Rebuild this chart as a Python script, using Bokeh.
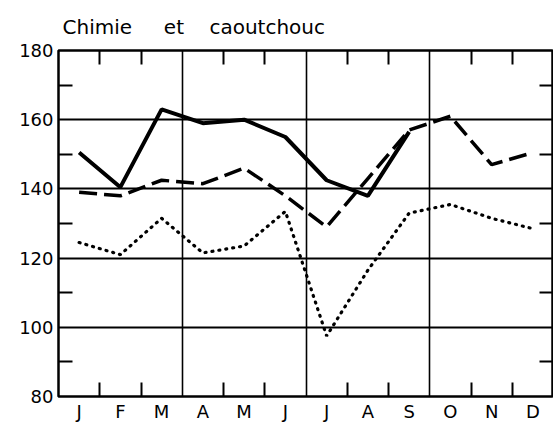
from bokeh.plotting import figure
from bokeh.models import FixedTicker, LinearAxis, Range1d
from bokeh.embed import file_html
from bokeh.resources import INLINE

# ---- data ----
months = ["J", "F", "M", "A", "M", "J", "J", "A", "S", "O", "N", "D"]
solid_vals = [150.5, 140.5, 163, 159, 160, 155, 142.5, 138, 156.5]
dashed_vals = [139, 138, 142.5, 141.5, 146, 138, 129, 143, 157, 161, 147, 150.5]
dotted_vals = [124.5, 121, 131.5, 121.5, 123.5, 133.5, 97.5, 116.5, 133, 135.5, 131.5, 128.5]
y_labels = [80, 100, 120, 140, 160, 180]
y_minor = [90, 110, 130, 150, 170]
y_grid = [100, 120, 140, 160]
quarter_lines = [3, 6, 9]
month_bounds = [1, 2, 4, 5, 7, 8, 10, 11]
title_text = "Chimie" + "\u00a0" * 5 + "et" + "\u00a0" * 4 + "caoutchouc"

xc = [i + 0.5 for i in range(len(months))]

FONT = "DejaVu Sans"

p = figure(width=553, height=424, output_backend="svg", toolbar_location=None,
           x_range=Range1d(0, 12), y_range=Range1d(80, 180),
           min_border_left=58, min_border_right=0, min_border_top=10, min_border_bottom=0,
           x_axis_location=None, y_axis_location=None)

p.title.text = title_text
p.title.text_font = FONT
p.title.text_font_size = "20px"
p.title.text_font_style = "normal"
p.title.text_color = "black"
p.title.offset = 4
p.title.standoff = 24

p.outline_line_color = "black"
p.outline_line_width = 2.5
p.background_fill_color = "white"
p.border_fill_color = "white"

# grids
p.ygrid.ticker = FixedTicker(ticks=y_grid)
p.ygrid.grid_line_color = "black"
p.ygrid.grid_line_width = 2
p.xgrid.ticker = FixedTicker(ticks=quarter_lines)
p.xgrid.grid_line_color = "black"
p.xgrid.grid_line_width = 1.6

def style_axis(ax, labels=True):
    ax.axis_line_color = None
    ax.major_tick_line_color = None
    ax.major_tick_in = 0
    ax.major_tick_out = 0
    ax.minor_tick_line_color = "black"
    ax.minor_tick_line_width = 2
    ax.minor_tick_in = 14
    ax.minor_tick_out = 0
    ax.major_label_text_font = FONT
    ax.major_label_text_font_size = "18px"
    ax.major_label_text_color = "black"
    if not labels:
        ax.major_label_text_font_size = "0px"

# left axis
left = LinearAxis(ticker=FixedTicker(ticks=y_labels, minor_ticks=y_minor))
style_axis(left)
left.major_label_standoff = 5
p.add_layout(left, "left")

# right axis (ticks only)
right = LinearAxis(ticker=FixedTicker(ticks=[], minor_ticks=y_minor))
style_axis(right, labels=False)
p.add_layout(right, "right")

# bottom axis: month labels at centres, ticks at month boundaries
bottom = LinearAxis(ticker=FixedTicker(ticks=xc, minor_ticks=month_bounds))
style_axis(bottom)
bottom.major_label_overrides = {x: m for x, m in zip(xc, months)}
bottom.major_label_standoff = 4
p.add_layout(bottom, "below")

# top axis (ticks only)
top = LinearAxis(ticker=FixedTicker(ticks=[], minor_ticks=month_bounds))
style_axis(top, labels=False)
p.add_layout(top, "above")

# series
p.line(xc[:len(solid_vals)], solid_vals, line_color="black", line_width=4)
p.line(xc, dashed_vals, line_color="black", line_width=3.5, line_dash="18 7")
p.line(xc, dotted_vals, line_color="black", line_width=3.2, line_dash="1 6", line_cap="round")

open("out.html", "w").write(file_html(p, INLINE))
